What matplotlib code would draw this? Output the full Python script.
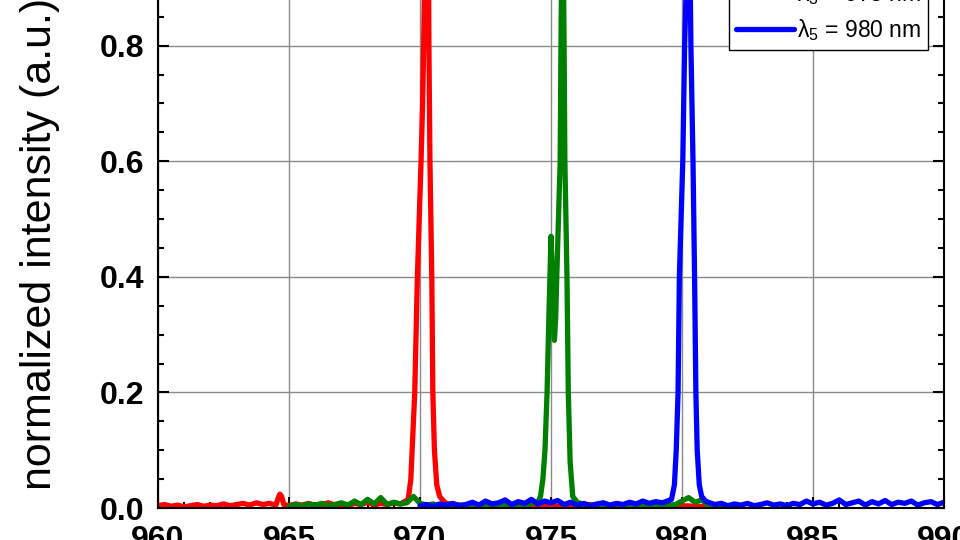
import matplotlib
import matplotlib.pyplot as plt

matplotlib.use("Agg")

plt.rcParams["font.family"] = ["Liberation Sans", "DejaVu Sans"]
plt.rcParams["mathtext.fontset"] = "custom"
plt.rcParams["mathtext.rm"] = "Liberation Sans"
plt.rcParams["mathtext.it"] = "Liberation Sans:italic"
plt.rcParams["mathtext.bf"] = "Liberation Sans:bold"

# --- data (wavelength in nm, normalized intensity) ---
red_nm = [960.0, 960.25, 960.5, 960.75, 961.0, 961.25, 961.5, 961.75, 962.0, 962.25,
          962.5, 962.75, 963.0, 963.25, 963.5, 963.75, 964.0, 964.25, 964.5,
          964.58, 964.65, 964.72, 964.8,
          965.0, 965.25, 965.5, 965.75, 966.0, 966.25, 966.5, 966.75, 967.0, 967.25,
          967.5, 967.75, 968.0, 968.25, 968.5, 968.75, 969.0, 969.25, 969.45,
          969.55, 969.65, 969.8, 969.9, 970.04, 970.1, 970.14, 970.18, 970.25, 970.31,
          970.33, 970.34, 970.38, 970.45, 970.49, 970.55, 970.64, 970.75, 970.9, 971.0,
          971.5, 972.0, 972.5, 973.0, 973.5, 974.0, 974.5, 975.0, 975.5, 976.0,
          976.5, 977.0, 977.5, 978.0, 978.5, 979.0, 979.5, 980.0, 980.5, 981.0]
red_int = [0.004, 0.006, 0.003, 0.005, 0.002, 0.004, 0.006, 0.003, 0.005, 0.004,
           0.007, 0.004, 0.006, 0.008, 0.005, 0.009, 0.006, 0.008, 0.005,
           0.016, 0.024, 0.020, 0.006,
           0.004, 0.007, 0.005, 0.008, 0.004, 0.006, 0.009, 0.005, 0.007, 0.004,
           0.008, 0.006, 0.010, 0.005, 0.008, 0.006, 0.009, 0.007, 0.012,
           0.015, 0.05, 0.2, 0.4, 0.6, 0.7, 0.8, 0.93, 1.0, 0.95,
           0.9, 0.8, 0.6, 0.4, 0.2, 0.1, 0.04, 0.02, 0.012, 0.008,
           0.005, 0.003, 0.004, 0.002, 0.003, 0.004, 0.002, 0.003, 0.002, 0.004,
           0.006, 0.003, 0.002, 0.003, 0.002, 0.003, 0.002, 0.004, 0.003, 0.002]

green_nm = [965.0, 965.25, 965.5, 965.75, 966.0, 966.25, 966.5, 966.75, 967.0, 967.25,
            967.5, 967.75, 968.0, 968.25, 968.5, 968.75, 969.0, 969.25, 969.5, 969.75,
            970.0, 970.25, 970.5, 970.75, 971.0, 971.25, 971.5, 971.75, 972.0, 972.25,
            972.5, 972.75, 973.0, 973.25, 973.5, 973.75, 974.0, 974.25, 974.5,
            974.6, 974.69, 974.77, 974.85, 974.93, 975.0, 975.04, 975.08, 975.13, 975.18,
            975.22, 975.35, 975.38, 975.40, 975.44, 975.48, 975.5, 975.53, 975.61, 975.66,
            975.73, 975.83, 976.0,
            976.25, 976.5, 976.75, 977.0, 977.25, 977.5, 977.75, 978.0, 978.25, 978.5,
            978.75, 979.0, 979.25, 979.5, 979.75, 980.0, 980.25, 980.5, 980.75, 981.0,
            981.25, 981.5, 981.75, 982.0]
green_int = [0.003, 0.006, 0.004, 0.007, 0.005, 0.008, 0.004, 0.006, 0.009, 0.005,
             0.012, 0.006, 0.015, 0.007, 0.018, 0.006, 0.010, 0.007, 0.009, 0.020,
             0.008, 0.005, 0.007, 0.004, 0.006, 0.003, 0.005, 0.004, 0.006, 0.003,
             0.005, 0.004, 0.006, 0.004, 0.005, 0.007, 0.005, 0.008, 0.010,
             0.02, 0.05, 0.1, 0.2, 0.35, 0.47, 0.42, 0.32, 0.29, 0.33,
             0.4, 0.6, 0.8, 0.9, 1.0, 0.9, 0.8, 0.6, 0.4, 0.2,
             0.08, 0.02, 0.01,
             0.006, 0.004, 0.005, 0.003, 0.004, 0.002, 0.004, 0.003, 0.005, 0.003,
             0.004, 0.003, 0.004, 0.005, 0.006, 0.012, 0.018, 0.010, 0.014, 0.005,
             0.003, 0.004, 0.003, 0.002]

blue_nm = [970.0, 970.25, 970.5, 970.75, 971.0, 971.25, 971.5, 971.75, 972.0, 972.25,
           972.5, 972.75, 973.0, 973.25, 973.5, 973.75, 974.0, 974.25, 974.5, 974.75,
           975.0, 975.25, 975.5, 975.75, 976.0, 976.25, 976.5, 976.75, 977.0, 977.25,
           977.5, 977.75, 978.0, 978.25, 978.5, 978.75, 979.0, 979.25, 979.5,
           979.6, 979.71, 979.78, 979.85, 979.9, 980.03, 980.1, 980.16, 980.25, 980.31,
           980.34, 980.42, 980.48, 980.53, 980.58, 980.66, 980.75, 980.9,
           981.0, 981.25, 981.5, 981.75, 982.0, 982.25, 982.5, 982.75, 983.0, 983.25,
           983.5, 983.75, 984.0, 984.25, 984.5, 984.75, 985.0, 985.25, 985.5, 985.75,
           986.0, 986.25, 986.5, 986.75, 987.0, 987.25, 987.5, 987.75, 988.0, 988.25,
           988.5, 988.75, 989.0, 989.25, 989.5, 989.75, 990.0]
blue_int = [0.004, 0.006, 0.003, 0.007, 0.005, 0.008, 0.004, 0.006, 0.010, 0.005,
            0.012, 0.007, 0.009, 0.014, 0.006, 0.011, 0.008, 0.015, 0.007, 0.012,
            0.009, 0.013, 0.006, 0.010, 0.005, 0.008, 0.004, 0.007, 0.009, 0.005,
            0.008, 0.006, 0.010, 0.007, 0.012, 0.008, 0.011, 0.009, 0.013,
            0.015, 0.04, 0.1, 0.2, 0.4, 0.6, 0.8, 0.9, 1.0, 0.92,
            0.8, 0.6, 0.4, 0.2, 0.1, 0.04, 0.02, 0.012,
            0.010, 0.006, 0.008, 0.004, 0.007, 0.005, 0.008, 0.004, 0.006, 0.009,
            0.005, 0.007, 0.004, 0.008, 0.006, 0.012, 0.007, 0.010, 0.005, 0.008,
            0.014, 0.006, 0.009, 0.012, 0.005, 0.011, 0.007, 0.013, 0.006, 0.010,
            0.008, 0.012, 0.005, 0.009, 0.011, 0.006, 0.010]

series_labels = [r"λ$_\mathregular{1}$ = 970 nm",
                 r"λ$_\mathregular{3}$ = 975 nm",
                 r"λ$_\mathregular{5}$ = 980 nm"]
series_colors = ["#ff0000", "#008000", "#0000ff"]

x_ticks = [960, 965, 970, 975, 980, 985, 990]
y_ticks = [0.0, 0.2, 0.4, 0.6, 0.8, 1.0]

# ---------------------------------------------------------------------------
fig = plt.figure(figsize=(9.6, 5.4), dpi=100)
# axes reach past the top and bottom of the canvas (the reference is a crop)
ax = fig.add_axes([158 / 960, 32 / 540, 786 / 960, 1.05 * 578 / 540])

for nm, val, lab, col in zip([red_nm, green_nm, blue_nm],
                             [red_int, green_int, blue_int],
                             series_labels, series_colors):
    ax.plot(nm, val, color=col, lw=3.8, label=lab,
            solid_joinstyle="round", solid_capstyle="round")

ax.set_xlim(960, 990)
ax.set_ylim(0, 1.05)
ax.set_xticks(x_ticks, [str(t) for t in x_ticks], fontsize=23, fontweight="bold")
ax.set_yticks(y_ticks, [f"{t:.1f}" for t in y_ticks], fontsize=23, fontweight="bold")
ax.xaxis.set_minor_locator(matplotlib.ticker.MultipleLocator(1))
ax.yaxis.set_minor_locator(matplotlib.ticker.MultipleLocator(0.05))
ax.tick_params(which="both", direction="in", top=True, right=True, width=1.5)
ax.tick_params(which="major", length=8)
ax.tick_params(which="minor", length=4.5)
ax.tick_params(axis="x", which="major", pad=12)
ax.tick_params(axis="y", which="major", pad=10)

ax.grid(True, which="major", color="#8a8a8a", lw=1.0)
ax.set_axisbelow(True)
for sp in ax.spines.values():
    sp.set_linewidth(1.5)
    sp.set_color("black")

leg = ax.legend(loc="lower right", bbox_to_anchor=(928 / 960, 490 / 540),
                bbox_transform=fig.transFigure, borderaxespad=0, fancybox=False,
                edgecolor="black", framealpha=1, fontsize=16.5, handlelength=2.5,
                handletextpad=0.15, borderpad=0.3, labelspacing=0.45)
leg.get_frame().set_linewidth(1.0)

fig.text(40 / 960, 50 / 540, "normalized intensity (a.u.)", rotation=90,
         ha="center", va="bottom", fontsize=31)

fig.savefig("out.png", dpi=100)
